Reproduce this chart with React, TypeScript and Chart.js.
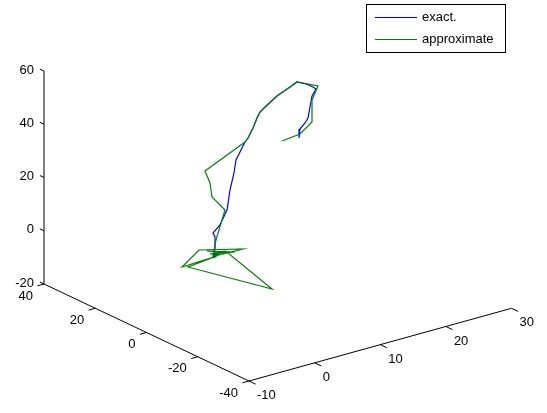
import React, { useEffect, useRef } from "react";
import { Chart, registerables } from "chart.js";

Chart.register(...registerables);

// ---------- data (3-D points) ----------
const exactX = [0.44, 0.13, 0.74, 0.29, 0.44, 0.44, 0.13, 1.2, 2.27, 2.72, 3.33, 3.64, 5.01, 5.47, 6.23, 6.84, 7.3, 8.06, 9.89, 11.87, 12.93, 14.3, 15.37, 15.83, 15.22, 14.91, 14.61, 14.15, 13.39, 13.24];
const exactY = [0, 0, 0, 0, 0, 0, 0, 0, 0, 0, 0, 0, 0, 0, 0, 0, 0, 0, 0, 0, 0, 0, 0, 0, 0, 0, 0, 0, 0, 0];
const exactZ = [0.86, 2.57, 1.77, 1.34, 4.61, 8.74, 10.45, 12.73, 17.64, 24.83, 30.81, 35.48, 41.3, 42.49, 45.73, 49.07, 51.01, 52.37, 55.25, 57.28, 58.43, 56.74, 54.89, 53.83, 51.61, 47.69, 43.76, 42.2, 40.46, 37.19];

const approxX = [0.44, 4.7, -2.0, -4.59, 0.74, -3.68, 9.12, 2.42, -0.78, 3.49, -0.32, 2.11, 0.13, 0.59, 1.96, -0.02, -0.32, -1.09, 5.01, 5.47, 6.23, 6.84, 7.3, 8.06, 9.89, 11.87, 12.93, 16.13, 15.22, 15.22, 13.39, 10.65];
const approxY = [0, 0, 0, 0, 0, 0, 0, 0, 0, 0, 0, 0, 0, 0, 0, 0, 0, 0, 0, 0, 0, 0, 0, 0, 0, 0, 0, 0, 0, 0, 0, 0];
const approxZ = [1.61, 1.32, 5.52, 0.91, 1.4, 0.29, -16.72, 1.38, 4.32, 1.03, 2.88, 2.34, 1.81, 7.51, 17.84, 24.08, 29.54, 34.57, 41.3, 42.49, 45.73, 49.07, 51.01, 52.37, 55.25, 57.28, 58.43, 54.74, 50.11, 41.85, 38.59, 37.83];

const xTicks = [-10, 0, 10, 20, 30];
const yTicks = [40, 20, 0, -20, -40];
const zTicks = [-20, 0, 20, 40, 60];
const xLim = [-10, 30];
const yLim = [-40, 40];
const zLim = [-20, 60];

const seriesNames = ["exact.", "approximate"];

// ---------- view (camera projection, pixels per data unit) ----------
const VIEW = {
  ox: 44,
  oy: 284,
  ex: [6.5625, -1.8175],
  ey: [-2.5625, -1.2125],
  ez: [0, -2.6625],
};

function project(x: number, y: number, z: number) {
  const u = x - xLim[0];
  const v = y - yLim[1];
  const w = z - zLim[0];
  return {
    x: VIEW.ox + u * VIEW.ex[0] + v * VIEW.ey[0] + w * VIEW.ez[0],
    y: VIEW.oy + u * VIEW.ex[1] + v * VIEW.ey[1] + w * VIEW.ez[1],
  };
}

const FONT = '13px "Liberation Sans", Arial, Helvetica, sans-serif';
const BLUE = "#0000ff";
const GREEN = "#008000";

const axes3d = {
  id: "axes3d",
  beforeDatasetsDraw(chart: any) {
    const { ctx } = chart;
    const sx = chart.scales.x;
    const sy = chart.scales.y;
    const px = (p: { x: number; y: number }) => [sx.getPixelForValue(p.x), sy.getPixelForValue(p.y)];
    const line = (a: number[], b: number[]) => {
      ctx.beginPath();
      ctx.moveTo(a[0], a[1]);
      ctx.lineTo(b[0], b[1]);
      ctx.stroke();
    };
    ctx.save();
    ctx.strokeStyle = "#000";
    ctx.lineWidth = 1;
    ctx.fillStyle = "#000";
    ctx.font = FONT;

    // z axis
    line(px(project(xLim[0], yLim[1], zLim[0])), px(project(xLim[0], yLim[1], zLim[1])));
    // y axis
    line(px(project(xLim[0], yLim[1], zLim[0])), px(project(xLim[0], yLim[0], zLim[0])));
    // x axis
    line(px(project(xLim[0], yLim[0], zLim[0])), px(project(xLim[1], yLim[0], zLim[0])));

    // z ticks
    ctx.textAlign = "right";
    ctx.textBaseline = "middle";
    zTicks.forEach((t) => {
      const a = px(project(xLim[0], yLim[1], t));
      const b = px(project(xLim[0], yLim[1] + 1.6, t));
      line(a, b);
      ctx.fillText(String(t), a[0] - 10, a[1] - 1);
    });
    // y ticks
    yTicks.forEach((t) => {
      const a = px(project(xLim[0], t, zLim[0]));
      const b = px(project(xLim[0] - 1, t, zLim[0]));
      line(a, b);
      ctx.fillText(String(t), a[0] - 11, a[1] + 12);
    });
    // x ticks
    ctx.textAlign = "left";
    xTicks.forEach((t) => {
      const a = px(project(t, yLim[0], zLim[0]));
      const b = px(project(t, yLim[0] - 2.6, zLim[0]));
      line(a, b);
      ctx.fillText(String(t), a[0] + 8, a[1] + 14.5);
    });
    ctx.restore();
  },
  afterDraw(chart: any) {
    const { ctx } = chart;
    ctx.save();
    ctx.fillStyle = "#fff";
    ctx.fillRect(366, 4, 140, 48);
    ctx.strokeStyle = "#000";
    ctx.lineWidth = 1;
    ctx.strokeRect(366.5, 4.5, 139, 48);
    const colors = [BLUE, GREEN];
    const rows = [17, 39];
    ctx.font = FONT;
    ctx.textAlign = "left";
    ctx.textBaseline = "middle";
    seriesNames.forEach((n, i) => {
      ctx.fillStyle = colors[i];
      ctx.fillRect(375, rows[i], 42, 1);
      ctx.fillStyle = "#000";
      ctx.fillText(n, 422, rows[i] + 0.5);
    });
    ctx.restore();
  },
};

export default function App() {
  const ref = useRef<HTMLCanvasElement | null>(null);
  useEffect(() => {
    if (!ref.current) return;
    const exactPts = exactX.map((x, i) => project(x, exactY[i], exactZ[i]));
    const approxPts = approxX.map((x, i) => project(x, approxY[i], approxZ[i]));
    const chart = new Chart(ref.current, {
      type: "scatter",
      data: {
        datasets: [
          {
            label: seriesNames[0],
            data: exactPts,
            showLine: true,
            borderColor: BLUE,
            backgroundColor: BLUE,
            borderWidth: 1.2,
            pointRadius: 0,
            tension: 0,
            order: 1,
          },
          {
            label: seriesNames[1],
            data: approxPts,
            showLine: true,
            borderColor: GREEN,
            backgroundColor: GREEN,
            borderWidth: 1.2,
            pointRadius: 0,
            tension: 0,
            order: 0,
          },
        ],
      },
      options: {
        animation: false,
        responsive: false,
        maintainAspectRatio: false,
        layout: { padding: 0 },
        plugins: { legend: { display: false }, tooltip: { enabled: false } },
        scales: {
          x: { type: "linear", min: 0, max: 547, display: false },
          y: { type: "linear", min: 0, max: 413, reverse: true, display: false },
        },
      },
      plugins: [axes3d],
    });
    return () => chart.destroy();
  }, []);
  return (
    <div style={{ position: "absolute", left: 0, top: 0, width: 547, height: 413, background: "#fff" }}>
      <canvas ref={ref} width={547} height={413} style={{ display: "block" }} />
    </div>
  );
}
